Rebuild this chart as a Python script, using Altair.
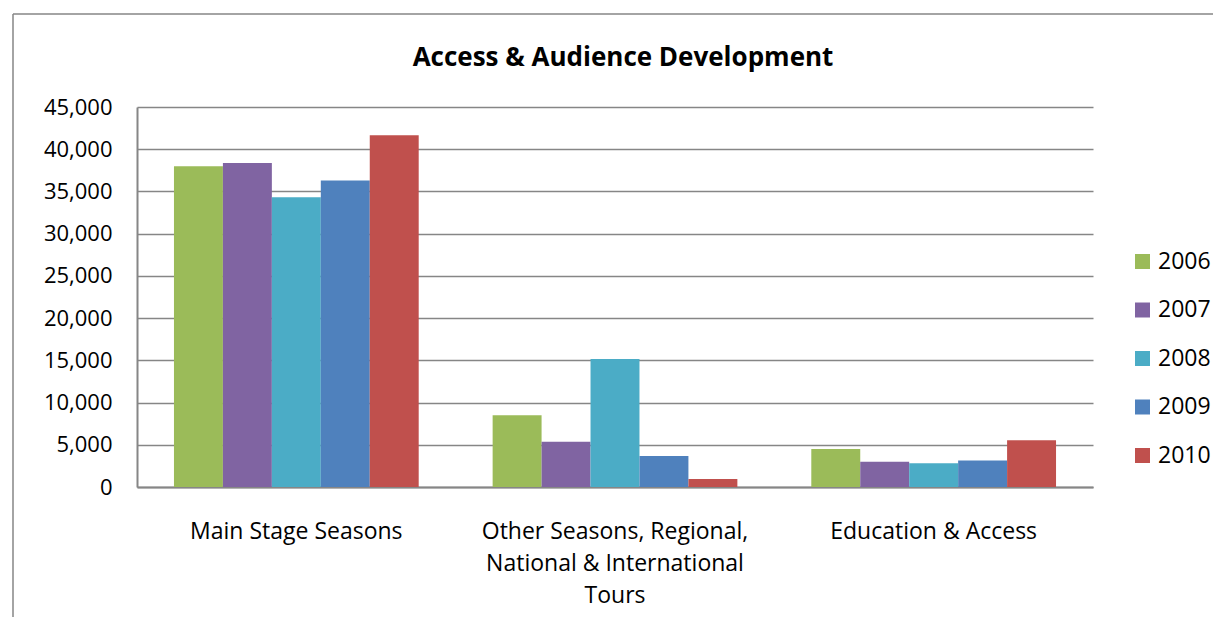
import altair as alt
import pandas as pd

categories = [
    "Main Stage Seasons",
    "Other Seasons, Regional, National & International Tours",
    "Education & Access",
]
category_lines = {
    "Other Seasons, Regional, National & International Tours": ["Other Seasons, Regional,", "National & International", "Tours"],
}
years = ["2006", "2007", "2008", "2009", "2010"]
colors = ["#9BBB59", "#8064A2", "#4BACC6", "#4F81BD", "#C0504D"]
values = {
    "2006": [37980, 8490, 4500],
    "2007": [38370, 5370, 3000],
    "2008": [34300, 15160, 2800],
    "2009": [36300, 3670, 3130],
    "2010": [41650, 950, 5530],
}
y_ticks = [0, 5000, 10000, 15000, 20000, 25000, 30000, 35000, 40000, 45000]

rows = []
for y in years:
    for c, v in zip(categories, values[y]):
        rows.append({"Category": c, "Year": y, "Value": v})
df = pd.DataFrame(rows)

label_expr = "datum.label"
for k, lines in category_lines.items():
    arr = "[" + ",".join("'" + s + "'" for s in lines) + "]"
    label_expr = f"datum.label == '{k}' ? {arr} : " + label_expr

FONT = "Open Sans"
GRAY = "#868686"

bars = alt.Chart(df).mark_bar().encode(
    x=alt.X("Category:N", sort=categories, title=None,
            scale=alt.Scale(paddingInner=0.232, paddingOuter=0.116),
            axis=alt.Axis(labelAngle=0, labelExpr=label_expr, ticks=False,
                          domainColor=GRAY, domainWidth=2, labelFontSize=23,
                          labelFont=FONT, labelColor="#000", labelPadding=33,
                          labelLineHeight=32, labelLimit=400)),
    xOffset=alt.XOffset("Year:N", sort=years, scale=alt.Scale(paddingInner=0, paddingOuter=0)),
    y=alt.Y("Value:Q", title=None,
            scale=alt.Scale(domain=[0, 45000], nice=False),
            axis=alt.Axis(values=y_ticks, labelExpr="format(datum.value, ',')", ticks=False,
                          domainColor=GRAY, domainWidth=2, gridColor=GRAY, gridWidth=1.5,
                          labelFontSize=22, labelFont=FONT, labelColor="#000",
                          labelPadding=25)),
    color=alt.Color("Year:N", sort=years,
                    scale=alt.Scale(domain=years, range=colors),
                    legend=alt.Legend(title=None, orient="none", legendX=994, legendY=143,
                                      symbolType="square", symbolSize=225,
                                      symbolStrokeWidth=0, labelFontSize=23,
                                      labelFont=FONT, labelColor="#000",
                                      labelOffset=4, rowPadding=24.5, padding=0)),
)

frame_data = alt.Data(values=[{"a": 1}])
frame_top = alt.Chart(frame_data).mark_rule(stroke=GRAY, strokeWidth=1.5).encode(
    x=alt.value(-124), x2=alt.value(1200), y=alt.value(-93)
)
frame_left = alt.Chart(frame_data).mark_rule(stroke=GRAY, strokeWidth=1.5).encode(
    x=alt.value(-124), y=alt.value(-93), y2=alt.value(600)
)

chart = alt.layer(frame_top, frame_left, bars).properties(
    width=956, height=380,
    autosize=alt.AutoSizeParams(type="none"),
    padding={"left": 129, "top": 99, "right": 120, "bottom": 130},
    title=alt.TitleParams("Access & Audience Development", font=FONT, fontSize=26,
                          fontWeight="bold", color="#000", anchor="middle",
                          frame="group", baseline="bottom", dx=8, offset=-84),
).configure_view(stroke=None)

chart.save("out.html", embed_options={"renderer": "svg", "actions": False})
